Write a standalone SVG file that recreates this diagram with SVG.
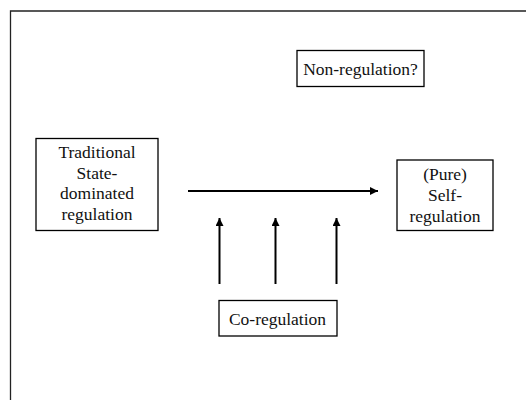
<svg xmlns="http://www.w3.org/2000/svg" width="527" height="400" viewBox="0 0 527 400">
<style>
.box{fill:#fff;stroke:#000;stroke-width:1.3}
.t{font-family:"Liberation Serif","Times New Roman",serif;font-size:17.5px;fill:#111;text-anchor:middle}
.c{stroke:#000;stroke-width:2;fill:none}
</style>
<defs>
<marker id="ah" viewBox="0 0 10 10" refX="10" refY="5" markerWidth="4" markerHeight="4" markerUnits="strokeWidth" orient="auto">
<path d="M0,0 L10,5 L0,10 z" fill="#000"/>
</marker>
</defs>
<rect width="527" height="400" fill="#fff"/>
<path d="M10.5,400 V11 H526" fill="none" stroke="#222" stroke-width="1.3"/>
<g id="traditional">
<rect class="box" x="36" y="138.5" width="122" height="92"/>
<text class="t" x="97" y="158">Traditional</text>
<text class="t" x="97" y="178.5">State-</text>
<text class="t" x="97" y="199">dominated</text>
<text class="t" x="97" y="220">regulation</text>
</g>
<g id="nonregulation">
<rect class="box" x="297" y="50.5" width="127" height="36"/>
<text class="t" x="360.5" y="75">Non-regulation?</text>
</g>
<g id="selfregulation">
<rect class="box" x="397" y="160" width="96" height="70.5"/>
<text class="t" x="445" y="180">(Pure)</text>
<text class="t" x="445" y="201">Self-</text>
<text class="t" x="445" y="221.5">regulation</text>
</g>
<g id="coregulation">
<rect class="box" x="219" y="300.5" width="118" height="35.5"/>
<text class="t" x="277.5" y="325">Co-regulation</text>
</g>
<g id="connectors">
<line class="c" x1="188" y1="191" x2="378" y2="191" marker-end="url(#ah)"/>
<line class="c" x1="219.5" y1="284" x2="219.5" y2="218" marker-end="url(#ah)"/>
<line class="c" x1="275.5" y1="284" x2="275.5" y2="218" marker-end="url(#ah)"/>
<line class="c" x1="336.5" y1="284" x2="336.5" y2="218" marker-end="url(#ah)"/>
</g>
</svg>
